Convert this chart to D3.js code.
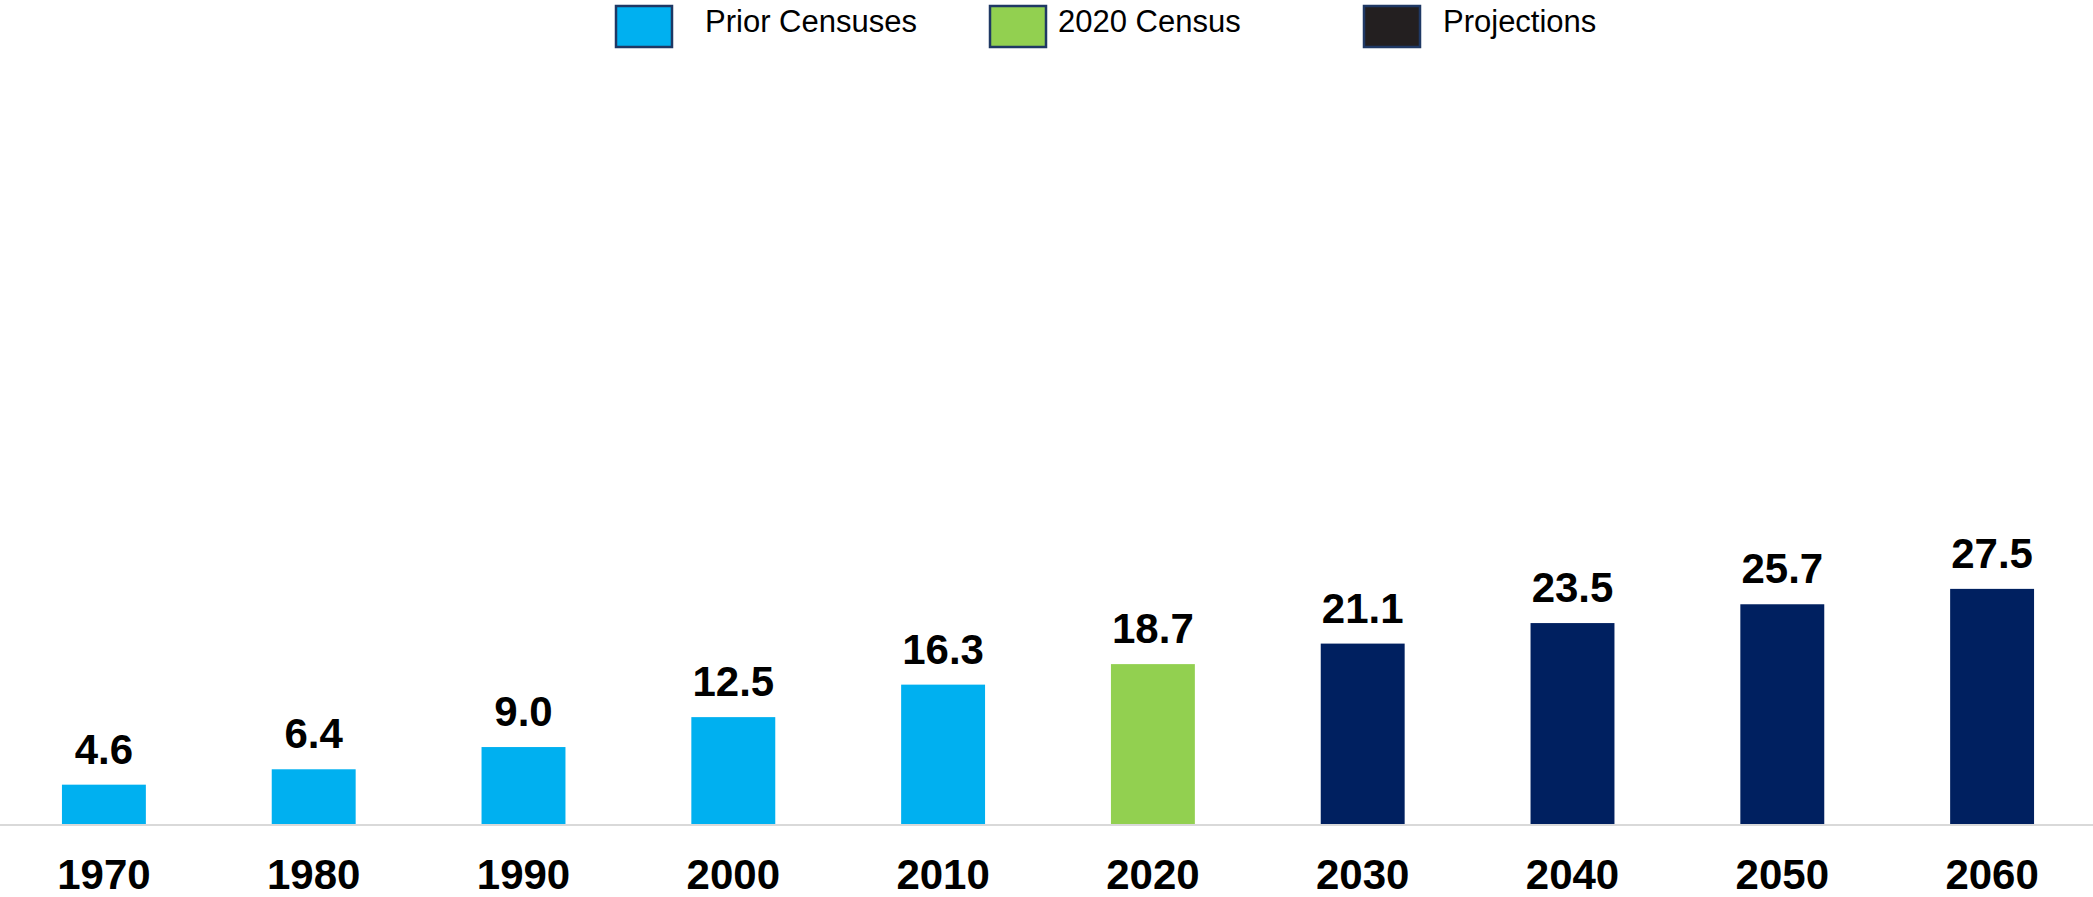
<!DOCTYPE html>
<html>
<head>
<meta charset="utf-8">
<script src="https://cdn.jsdelivr.net/npm/d3@7"></script>
<style>
  html, body { margin: 0; padding: 0; background: #ffffff; }
  svg { display: block; font-family: "Liberation Sans", Arial, sans-serif; }
</style>
</head>
<body>
<svg id="chart" width="2093" height="897"></svg>
<script>
// Data
var years = ["1970", "1980", "1990", "2000", "2010", "2020", "2030", "2040", "2050", "2060"];
var values = [4.6, 6.4, 9.0, 12.5, 16.3, 18.7, 21.1, 23.5, 25.7, 27.5];
var groups = ["prior", "prior", "prior", "prior", "prior", "census", "proj", "proj", "proj", "proj"];
var legendLabels = ["Prior Censuses", "2020 Census", "Projections"];

var width = 2093, height = 897;
var baseY = 824;

var svg = d3.select("#chart");

// Scales
var xScale = d3.scaleBand()
    .domain(years)
    .range([-1, 2097])
    .paddingInner(0.6)
    .paddingOuter(0.3);

var yScale = d3.scaleLinear()
    .domain([0, 90])
    .range([baseY, baseY - 8.55 * 90]);

var barColor = d3.scaleOrdinal()
    .domain(["prior", "census", "proj"])
    .range(["#00b0f0", "#92d050", "#002060"]);

var data = years.map(function(y, i) {
    return { year: y, value: values[i], group: groups[i] };
});

// Bars
svg.selectAll(".bar")
    .data(data)
    .enter()
    .append("rect")
    .attr("class", "bar")
    .attr("x", d => xScale(d.year))
    .attr("y", d => yScale(d.value))
    .attr("width", xScale.bandwidth())
    .attr("height", d => yScale(0) - yScale(d.value))
    .attr("fill", d => barColor(d.group));

// Baseline
svg.append("line")
    .attr("x1", 0)
    .attr("x2", width)
    .attr("y1", baseY + 1)
    .attr("y2", baseY + 1)
    .attr("stroke", "#d9d9d9")
    .attr("stroke-width", 2);

// Value labels
svg.selectAll(".val")
    .data(data)
    .enter()
    .append("text")
    .attr("class", "val")
    .attr("x", d => xScale(d.year) + xScale.bandwidth() / 2)
    .attr("y", d => yScale(d.value) - 21)
    .attr("text-anchor", "middle")
    .style("font-size", "42px")
    .style("font-weight", "bold")
    .attr("fill", "#000")
    .text(d => d.value.toFixed(1));

// Year labels (x axis)
var xAxis = d3.axisBottom(xScale).tickSize(0).tickPadding(0);
var axisG = svg.append("g")
    .attr("transform", "translate(0," + baseY + ")")
    .call(xAxis);
axisG.select(".domain").remove();
axisG.selectAll("text")
    .attr("dy", null)
    .attr("y", 65)
    .style("font-size", "42px")
    .style("font-weight", "bold")
    .style("font-family", "'Liberation Sans', Arial, sans-serif")
    .attr("fill", "#000");

// Legend
var legendX = [616, 990, 1364];
var legendFill = ["#00b0f0", "#92d050", "#231f20"];
var textX = [705, 1058, 1443];

var legend = svg.selectAll(".legend-item")
    .data(legendLabels)
    .enter()
    .append("g")
    .attr("class", "legend-item");

legend.append("rect")
    .attr("x", (d, i) => legendX[i])
    .attr("y", 6)
    .attr("width", 56)
    .attr("height", 41)
    .attr("fill", (d, i) => legendFill[i])
    .attr("stroke", "#1f3864")
    .attr("stroke-width", 2.5);

legend.append("text")
    .attr("x", (d, i) => textX[i])
    .attr("y", 32)
    .style("font-size", "31px")
    .attr("fill", "#000")
    .text(d => d);
</script>
</body>
</html>
